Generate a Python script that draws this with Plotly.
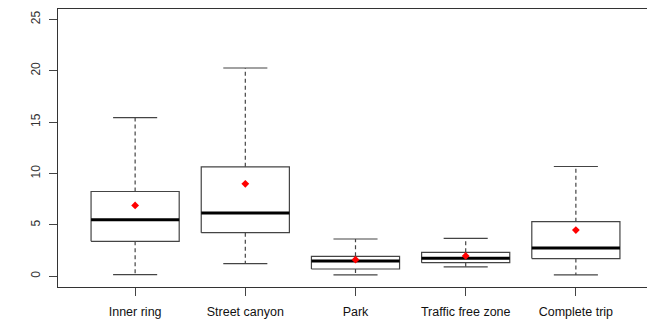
import plotly.graph_objects as go

categories = ["Inner ring", "Street canyon", "Park", "Traffic free zone", "Complete trip"]
lower_whisker = [0.17, 1.23, 0.13, 0.91, 0.13]
q1 = [3.40, 4.24, 0.71, 1.33, 1.72]
median = [5.50, 6.15, 1.49, 1.75, 2.76]
q3 = [8.25, 10.65, 1.94, 2.33, 5.31]
upper_whisker = [15.44, 20.26, 3.63, 3.69, 10.68]
means = [6.89, 9.00, 1.62, 1.98, 4.50]
y_ticks = [0, 5, 10, 15, 20, 25]

BOX_HALF = 0.4
CAP_HALF = 0.2
line_col = "#444444"

fig = go.Figure()
for i, cat in enumerate(categories):
    x = i + 1
    fig.add_trace(go.Scatter(
        x=[x - BOX_HALF, x + BOX_HALF, x + BOX_HALF, x - BOX_HALF, x - BOX_HALF],
        y=[q1[i], q1[i], q3[i], q3[i], q1[i]],
        mode="lines", line=dict(color=line_col, width=1.2),
        fill="toself", fillcolor="white", hoverinfo="skip", showlegend=False))
    fig.add_trace(go.Scatter(
        x=[x, x, None, x, x],
        y=[q3[i], upper_whisker[i], None, q1[i], lower_whisker[i]],
        mode="lines", line=dict(color=line_col, width=1.2, dash="4px,3px"),
        hoverinfo="skip", showlegend=False))
    fig.add_trace(go.Scatter(
        x=[x - CAP_HALF, x + CAP_HALF, None, x - CAP_HALF, x + CAP_HALF],
        y=[upper_whisker[i], upper_whisker[i], None, lower_whisker[i], lower_whisker[i]],
        mode="lines", line=dict(color=line_col, width=1.2),
        hoverinfo="skip", showlegend=False))
    fig.add_trace(go.Scatter(
        x=[x - BOX_HALF, x + BOX_HALF], y=[median[i], median[i]],
        mode="lines", line=dict(color="black", width=3),
        hoverinfo="skip", showlegend=False))

fig.add_trace(go.Scatter(
    x=list(range(1, len(categories) + 1)), y=means, mode="markers",
    marker=dict(symbol="diamond", color="red", size=6),
    showlegend=False))

# page body has an 8px margin, so the figure is sized/offset to compensate
fig.update_layout(
    width=647, height=313,
    margin=dict(l=50, r=2, t=1, b=34),
    plot_bgcolor="white", paper_bgcolor="white",
    font=dict(family="Liberation Sans, Arial, sans-serif", color="#222222"),
)
fig.update_xaxes(
    range=[0.3, 5.7], tickmode="array", tickvals=list(range(1, 6)), ticktext=categories,
    showgrid=False, zeroline=False, showline=True, mirror=True, linecolor="#333333", linewidth=1,
    ticks="outside", ticklen=8, tickcolor="#444444", ticklabelstandoff=5,
    tickfont=dict(size=12.5, color="#111111"))
fig.update_yaxes(
    range=[-1.04, 26.0], tickmode="array", tickvals=y_ticks, ticktext=[str(v) for v in y_ticks],
    showgrid=False, zeroline=False, showline=True, mirror=True, linecolor="#333333", linewidth=1,
    ticks="outside", ticklen=8, tickcolor="#444444", tickangle=-90, ticklabelstandoff=4,
    tickfont=dict(size=12, color="#333333"))

fig.write_html("out.html")
